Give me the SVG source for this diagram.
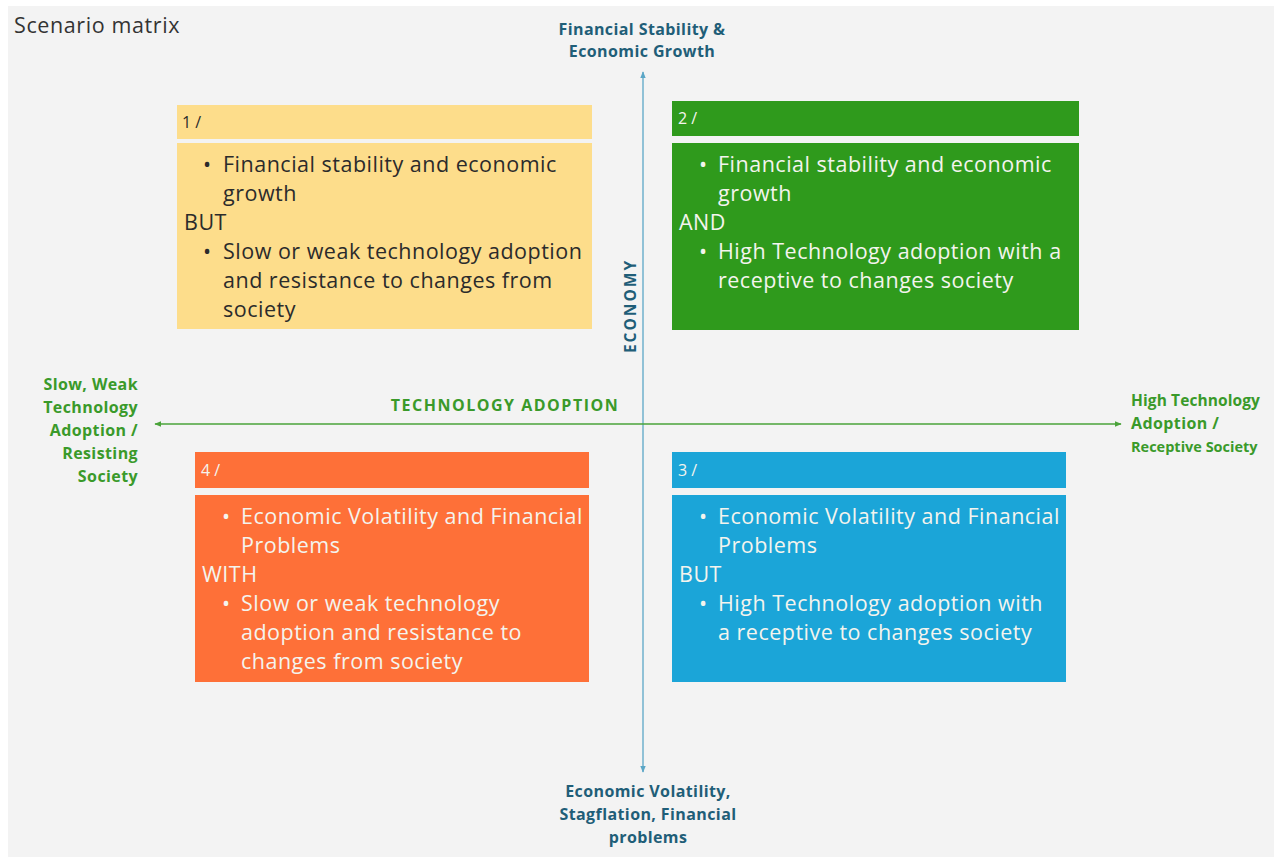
<svg xmlns="http://www.w3.org/2000/svg" width="1274" height="859" viewBox="0 0 1274 859">
<defs>
<style>
.t{font-family:"Open Sans","Liberation Sans",sans-serif}
.body{font-size:21.5px;letter-spacing:0.5px}
.hdr{font-size:16px}
.dark{fill:#2b2b2b}
.light{fill:#f4f4ee}
.ax{font-family:"Open Sans","Liberation Sans",sans-serif;font-weight:bold;font-size:16px;letter-spacing:0.4px}
.cap{letter-spacing:1.5px}
.blue{fill:#1f5e78}
.grn{fill:#3a9a2a}
</style>
<marker id="ab" viewBox="0 0 10 10" refX="9" refY="5" markerWidth="7" markerHeight="7" orient="auto-start-reverse" markerUnits="userSpaceOnUse"><path d="M0,1 L10,5 L0,9 z" fill="#5aa6c6"/></marker>
<marker id="ag" viewBox="0 0 10 10" refX="9" refY="5" markerWidth="7" markerHeight="7" orient="auto-start-reverse" markerUnits="userSpaceOnUse"><path d="M0,1 L10,5 L0,9 z" fill="#4aa33a"/></marker>
</defs>
<rect width="1274" height="859" fill="#ffffff"/>
<rect x="8" y="6" width="1266" height="851" fill="#f3f3f3"/>
<text class="t" x="14" y="33" font-size="21.5" letter-spacing="0.6" fill="#333">Scenario matrix</text>

<g id="connectors">
<line x1="643" y1="72" x2="643" y2="772" stroke="#6fb0cc" stroke-width="1.5" marker-start="url(#ab)" marker-end="url(#ab)"/>
<line x1="155" y1="424" x2="1121" y2="424" stroke="#4aa33a" stroke-width="1.5" marker-start="url(#ag)" marker-end="url(#ag)"/>
</g>

<g id="axis-labels">
<text class="ax blue" text-anchor="middle" x="642" y="35">Financial Stability &amp;</text>
<text class="ax blue" text-anchor="middle" x="642" y="57">Economic Growth</text>
<text class="ax blue" text-anchor="middle" style="font-size:15.5px;letter-spacing:2px" transform="translate(636,306) rotate(-90)">ECONOMY</text>
<text class="ax grn cap" text-anchor="middle" x="505" y="411">TECHNOLOGY ADOPTION</text>
<text class="ax grn" text-anchor="end" x="138" y="390">Slow, Weak</text>
<text class="ax grn" text-anchor="end" x="138" y="413">Technology</text>
<text class="ax grn" text-anchor="end" x="138" y="436">Adoption /</text>
<text class="ax grn" text-anchor="end" x="138" y="459">Resisting</text>
<text class="ax grn" text-anchor="end" x="138" y="482">Society</text>
<text class="ax grn" x="1131" y="406" style="font-size:15.5px;letter-spacing:0.1px">High Technology</text>
<text class="ax grn" x="1131" y="429">Adoption /</text>
<text class="ax grn" x="1131" y="452" style="font-size:14.5px;letter-spacing:0px">Receptive Society</text>
<text class="ax blue" text-anchor="middle" x="648" y="797">Economic Volatility,</text>
<text class="ax blue" text-anchor="middle" x="648" y="820">Stagflation, Financial</text>
<text class="ax blue" text-anchor="middle" x="648" y="843">problems</text>
</g>

<g id="s1">
<rect x="177" y="105" width="415" height="34" fill="#fddd8b"/>
<rect x="177" y="143" width="415" height="186" fill="#fddd8b"/>
<text class="t hdr dark" x="182" y="128">1 /</text>
<g class="t body dark">
<text x="203" y="172">•</text><text x="223" y="172">Financial stability and economic</text>
<text x="223" y="201">growth</text>
<text x="184" y="230">BUT</text>
<text x="203" y="259">•</text><text x="223" y="259">Slow or weak technology adoption</text>
<text x="223" y="288">and resistance to changes from</text>
<text x="223" y="317">society</text>
</g>
</g>

<g id="s2">
<rect x="672" y="101" width="407" height="35" fill="#2f9a1c"/>
<rect x="672" y="143" width="407" height="187" fill="#2f9a1c"/>
<text class="t hdr light" x="678" y="124">2 /</text>
<g class="t body light">
<text x="699" y="172">•</text><text x="718" y="172">Financial stability and economic</text>
<text x="718" y="201">growth</text>
<text x="679" y="230">AND</text>
<text x="699" y="259">•</text><text x="718" y="259">High Technology adoption with a</text>
<text x="718" y="288">receptive to changes society</text>
</g>
</g>

<g id="s4">
<rect x="195" y="452" width="394" height="36" fill="#fe7038"/>
<rect x="195" y="495" width="394" height="187" fill="#fe7038"/>
<text class="t hdr light" x="201" y="476">4 /</text>
<g class="t body light">
<text x="222" y="524">•</text><text x="241" y="524">Economic Volatility and Financial</text>
<text x="241" y="553">Problems</text>
<text x="202" y="582">WITH</text>
<text x="222" y="611">•</text><text x="241" y="611">Slow or weak technology</text>
<text x="241" y="640">adoption and resistance to</text>
<text x="241" y="669">changes from society</text>
</g>
</g>

<g id="s3">
<rect x="672" y="452" width="394" height="36" fill="#1ba5d8"/>
<rect x="672" y="495" width="394" height="187" fill="#1ba5d8"/>
<text class="t hdr light" x="678" y="476">3 /</text>
<g class="t body light">
<text x="699" y="524">•</text><text x="718" y="524">Economic Volatility and Financial</text>
<text x="718" y="553">Problems</text>
<text x="679" y="582">BUT</text>
<text x="699" y="611">•</text><text x="718" y="611">High Technology adoption with</text>
<text x="718" y="640">a receptive to changes society</text>
</g>
</g>
</svg>
